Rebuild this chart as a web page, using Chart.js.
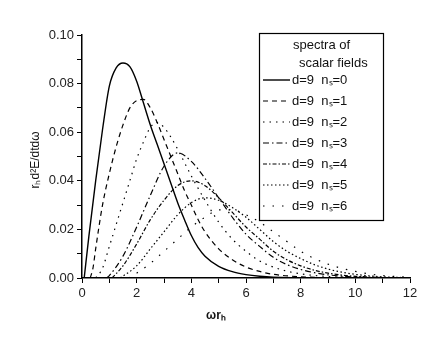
<!DOCTYPE html>
<html><head><meta charset="utf-8">
<script src="https://cdn.jsdelivr.net/npm/chart.js@4"></script>
<style>html,body{margin:0;padding:0;background:#fff}</style>
</head><body>
<canvas id="c" width="443" height="349"></canvas>
<script>
// ---- data ----
const seriesLabels = ['d=9  n\u209B=0','d=9  n\u209B=1','d=9  n\u209B=2','d=9  n\u209B=3','d=9  n\u209B=4','d=9  n\u209B=5','d=9  n\u209B=6'];
const legendTitle = ['spectra of', 'scalar fields'];
const xTitle = '\u03C9r\u2095';
const yTitle = 'r\u2095d\u00B2E/dtd\u03C9';

const x0 = [0.08, 0.25, 0.5, 0.75, 1.0, 1.25, 1.5, 1.75, 2.0, 2.25, 2.5, 2.75, 3.0, 3.25, 3.5, 3.75, 4.0, 4.25, 4.5, 5, 5.5, 6, 6.5, 7, 8];
const y0 = [0, 0.017, 0.040, 0.061, 0.079, 0.0865, 0.0885, 0.087, 0.081, 0.072, 0.063, 0.055, 0.047, 0.039, 0.031, 0.024, 0.0175, 0.0125, 0.009, 0.0048, 0.0026, 0.0014, 0.0007, 0.0003, 0.0001];

const x1 = [0.3, 0.4, 0.5, 0.75, 1.0, 1.25, 1.5, 1.75, 2.0, 2.25, 2.5, 2.75, 3.0, 3.25, 3.5, 3.75, 4.0, 4.25, 4.5, 5, 5.5, 6, 6.5, 7, 8, 9];
const y1 = [0, 0.004, 0.012, 0.030, 0.043, 0.054, 0.063, 0.070, 0.073, 0.0735, 0.070, 0.064, 0.057, 0.050, 0.043, 0.036, 0.030, 0.024, 0.019, 0.012, 0.0075, 0.0045, 0.0027, 0.0015, 0.0005, 0.0001];

const x2 = [0.5, 0.75, 1.0, 1.25, 1.5, 1.75, 2.0, 2.25, 2.5, 2.75, 3.0, 3.25, 3.5, 4.0, 4.5, 5.0, 5.5, 6.0, 6.5, 7, 7.5, 8, 9, 10];
const y2 = [0, 0.004, 0.013, 0.022, 0.031, 0.040, 0.049, 0.056, 0.062, 0.064, 0.062, 0.058, 0.053, 0.042, 0.032, 0.023, 0.016, 0.011, 0.007, 0.0045, 0.0028, 0.0017, 0.0006, 0.0002];

const x3 = [0.9, 1.0, 1.5, 2.0, 2.5, 3.0, 3.5, 4.0, 4.5, 5.0, 5.5, 6.0, 6.5, 7.0, 7.5, 8.0, 8.5, 9, 10, 11];
const y3 = [0, 0.001, 0.009, 0.021, 0.034, 0.046, 0.0515, 0.048, 0.041, 0.033, 0.025, 0.018, 0.013, 0.0085, 0.0055, 0.0035, 0.0022, 0.0013, 0.0004, 0.0001];

const x4 = [1.1, 1.5, 2.0, 2.5, 3.0, 3.5, 4.0, 4.5, 5.0, 5.5, 6.0, 6.5, 7.0, 7.5, 8.0, 8.5, 9.0, 9.5, 10, 11];
const y4 = [0, 0.005, 0.014, 0.024, 0.032, 0.038, 0.040, 0.038, 0.033, 0.027, 0.021, 0.016, 0.011, 0.0075, 0.005, 0.0032, 0.002, 0.0012, 0.0007, 0.0002];

const x5 = [1.4, 2.0, 2.5, 3.0, 3.5, 4.0, 4.5, 5.0, 5.5, 6.0, 6.5, 7.0, 7.5, 8.0, 8.5, 9.0, 9.5, 10, 10.5, 11, 12];
const y5 = [0, 0.005, 0.012, 0.019, 0.026, 0.031, 0.033, 0.032, 0.029, 0.025, 0.020, 0.015, 0.011, 0.008, 0.0055, 0.0037, 0.0024, 0.0015, 0.0009, 0.0005, 0.0001];

const x6 = [1.7, 2.0, 2.5, 3.0, 3.5, 4.0, 4.5, 5.0, 5.5, 6.0, 6.5, 7.0, 7.5, 8.0, 8.5, 9.0, 9.5, 10, 10.5, 11, 12];
const y6 = [0, 0.002, 0.006, 0.011, 0.016, 0.021, 0.025, 0.028, 0.028, 0.026, 0.023, 0.019, 0.015, 0.011, 0.008, 0.0057, 0.004, 0.0027, 0.0017, 0.001, 0.0003];

const xTickLabels = ['0','2','4','6','8','10','12'];
const yTickLabels = ['0.00','0.02','0.04','0.06','0.08','0.10'];

// ---- styles ----
const dashes = [[], [5,4], [1.5,5], [6,3,1.5,3], [4,2,1.5,2], [1.5,2.5], [1.5,8]];
const widths = [1.4, 1.2, 1.2, 1.2, 1.2, 1.2, 1.2];
const xs = [x0,x1,x2,x3,x4,x5,x6];
const ys = [y0,y1,y2,y3,y4,y5,y6];

const datasets = seriesLabels.map((lab, i) => ({
  label: lab,
  data: xs[i].map((x, j) => ({x: x, y: ys[i][j]})),
  borderColor: '#000',
  borderWidth: widths[i],
  borderDash: dashes[i],
  pointRadius: 0,
  fill: false,
  cubicInterpolationMode: 'monotone'
}));

const FONT = '"Liberation Sans", Arial, sans-serif';

const customPlugin = {
  id: 'custom',
  afterDraw(chart) {
    const ctx = chart.ctx;
    ctx.save();
    // legend box
    const bx = 259, by = 33, bw = 124, bh = 187;
    ctx.fillStyle = '#fff';
    ctx.fillRect(bx, by, bw, bh);
    ctx.strokeStyle = '#000';
    ctx.lineWidth = 1.2;
    ctx.setLineDash([]);
    ctx.strokeRect(bx + 0.5, by + 0.5, bw, bh);
    ctx.fillStyle = '#111';
    ctx.font = '13px ' + FONT;
    ctx.textBaseline = 'middle';
    ctx.textAlign = 'left';
    ctx.fillText(legendTitle[0], 293, 45);
    ctx.fillText(legendTitle[1], 299, 63);
    chart.data.datasets.forEach((ds, i) => {
      const y = 80 + i * 21;
      ctx.beginPath();
      ctx.setLineDash(ds.borderDash);
      ctx.lineWidth = ds.borderWidth;
      ctx.strokeStyle = '#000';
      ctx.moveTo(263, y);
      ctx.lineTo(290, y);
      ctx.stroke();
      ctx.setLineDash([]);
      ctx.fillText(ds.label, 292, y);
    });
    // axis titles
    ctx.font = 'bold 12px ' + FONT;
    ctx.textAlign = 'center';
    ctx.fillText(xTitle, 216, 316);
    ctx.save();
    ctx.translate(36, 160);
    ctx.rotate(-Math.PI / 2);
    ctx.font = '12px ' + FONT;
    ctx.fillText(yTitle, 0, 0);
    ctx.restore();
    ctx.restore();
  }
};

new Chart(document.getElementById('c'), {
  type: 'line',
  data: { datasets },
  options: {
    responsive: false,
    animation: false,
    layout: { padding: { top: 35, right: 33, left: 0, bottom: 0 } },
    plugins: { legend: { display: false }, tooltip: { enabled: false } },
    scales: {
      x: {
        type: 'linear', min: 0, max: 12,
        afterFit(s) { s.height = 71; },
        ticks: {
          stepSize: 1, autoSkip: false, maxRotation: 0, padding: 3,
          color: '#222', font: { family: FONT, size: 13 },
          callback: v => (Math.round(v) % 2 === 0 ? xTickLabels[Math.round(v) / 2] : '')
        },
        grid: { drawOnChartArea: false, drawTicks: true, tickLength: 5, color: '#000' },
        border: { color: '#000', width: 1.5 }
      },
      y: {
        type: 'linear', min: 0, max: 0.1,
        afterFit(s) { s.width = 82; },
        ticks: {
          stepSize: 0.01, autoSkip: false, padding: 3,
          color: '#222', font: { family: FONT, size: 13 },
          callback: v => { const k = Math.round(v * 100); return k % 2 === 0 ? yTickLabels[k / 2] : ''; }
        },
        grid: { drawOnChartArea: false, drawTicks: true, tickLength: 5, color: '#000' },
        border: { color: '#000', width: 1.5 }
      }
    }
  },
  plugins: [customPlugin]
});
</script>
</body></html>
